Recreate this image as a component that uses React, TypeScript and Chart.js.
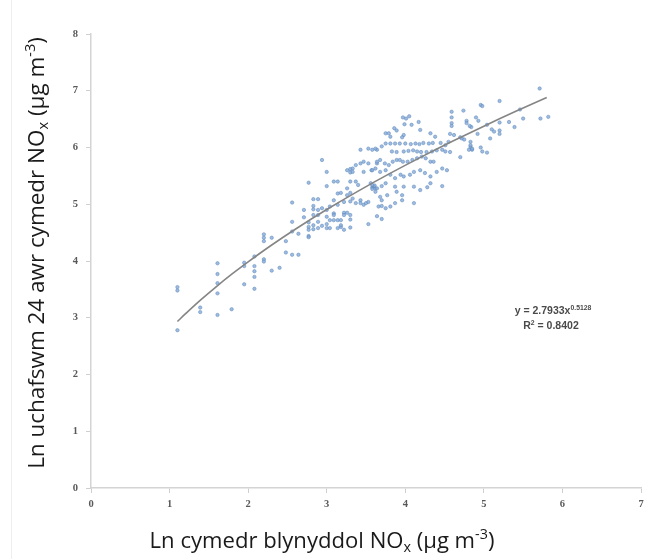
import React, { useEffect, useRef } from "react";
import { Chart, registerables } from "chart.js";

Chart.register(...registerables);

// ---- Data (ln of concentrations) ----
const lowRangePoints: [number, number][] = [
  [1.10, 3.54], [1.10, 3.48], [1.10, 2.78],
  [1.39, 3.18], [1.39, 3.10],
  [1.61, 3.96], [1.61, 3.77], [1.61, 3.61], [1.61, 3.43], [1.61, 3.05],
  [1.79, 3.15],
  [1.95, 3.97], [1.95, 3.91], [1.95, 3.59],
  [2.08, 4.08], [2.08, 3.91], [2.08, 3.82], [2.08, 3.72], [2.08, 3.51],
  [2.20, 4.47], [2.20, 4.41], [2.20, 4.35], [2.20, 4.03], [2.20, 3.99],
  [2.30, 4.41], [2.30, 3.83],
  [2.40, 3.88],
  [2.48, 4.35], [2.48, 4.15],
  [2.56, 5.03], [2.56, 4.69], [2.56, 4.52], [2.56, 4.11],
  [2.64, 4.48], [2.64, 4.11],
];

const midRangePoints: [number, number][] = [
  [2.71, 4.77], [2.71, 4.90],
  [2.77, 5.38], [2.77, 4.68], [2.77, 4.60], [2.77, 4.55], [2.77, 4.44], [2.77, 4.42],
  [2.83, 5.09], [2.83, 4.97], [2.83, 4.91], [2.83, 4.81], [2.83, 4.63], [2.83, 4.56],
  [2.89, 5.09], [2.89, 4.90], [2.89, 4.81], [2.89, 4.69], [2.89, 4.58],
  [2.94, 5.78], [2.94, 4.93], [2.94, 4.62],
  [3.00, 5.57], [3.00, 5.32], [3.00, 4.90], [3.00, 4.78], [3.00, 4.65], [3.00, 4.58],
  [3.04, 4.96], [3.04, 4.72], [3.04, 4.58],
  [3.09, 5.40], [3.09, 5.07], [3.09, 4.84], [3.09, 4.72], [3.09, 4.81],
  [3.14, 5.40], [3.14, 5.19], [3.14, 4.99], [3.14, 4.72], [3.14, 4.58],
  [3.18, 5.20], [3.18, 4.72], [3.18, 4.60], [3.18, 4.63],
  [3.22, 5.04], [3.22, 4.85], [3.22, 4.81], [3.22, 4.55],
  [3.26, 5.28], [3.26, 5.16], [3.26, 4.85], [3.26, 5.60],
  [3.30, 5.62], [3.30, 5.56], [3.30, 5.40], [3.30, 5.20], [3.30, 5.05], [3.30, 4.81], [3.30, 4.73], [3.30, 4.59],
  [3.33, 5.63], [3.33, 5.57], [3.33, 5.10],
  [3.37, 5.69], [3.37, 5.40], [3.37, 5.02],
  [3.40, 5.34],
  [3.43, 5.96], [3.43, 5.72], [3.43, 5.07], [3.43, 5.02],
  [3.47, 5.75], [3.47, 5.57], [3.47, 4.99],
];

const denseRangePoints: [number, number][] = [
  [3.50, 5.02], [3.53, 4.65], [3.53, 5.72], [3.53, 5.04], [3.53, 5.98],
  [3.56, 5.37], [3.58, 5.30], [3.60, 5.31], [3.62, 5.28], [3.58, 5.27], [3.61, 5.33], [3.57, 5.60],
  [3.64, 5.72], [3.64, 5.96], [3.66, 4.96], [3.62, 5.98],
  [3.97, 6.53], [3.99, 6.41], [4.08, 6.40], [4.17, 6.45], [4.01, 6.51], [4.05, 6.55],
  [3.75, 6.25], [3.79, 6.25], [3.86, 6.34], [3.98, 6.22], [3.96, 6.18], [4.19, 6.31],
  [4.32, 6.25], [4.38, 6.19], [4.57, 6.24], [4.62, 6.22], [3.89, 6.30], [3.81, 6.19],
  [4.59, 6.63], [4.59, 6.53], [4.59, 6.43], [4.59, 6.38],
  [4.55, 6.10], [4.51, 6.04], [4.45, 6.08], [4.35, 6.08], [4.30, 6.07], [4.23, 6.08],
  [4.18, 6.06], [4.13, 6.07], [4.07, 6.06],
  [4.00, 6.07], [3.93, 6.07], [3.87, 6.07], [3.81, 6.07], [3.75, 6.07], [3.70, 6.02], [3.58, 5.96],
  [3.83, 5.93], [3.89, 5.92], [3.98, 5.93], [4.04, 5.94], [4.10, 5.95], [4.15, 5.93], [4.20, 5.92],
  [4.27, 5.92], [4.34, 5.93], [4.40, 5.95], [4.47, 5.96], [4.51, 5.93], [4.57, 5.92],
  [3.64, 5.75], [3.68, 5.78], [3.74, 5.72], [3.79, 5.69], [3.84, 5.75], [3.89, 5.78], [3.93, 5.78],
  [3.97, 5.75], [4.03, 5.75], [4.09, 5.78], [4.15, 5.81], [4.21, 5.84], [4.26, 5.81], [4.32, 5.75], [4.36, 5.75],
  [3.58, 5.60], [3.62, 5.63], [3.68, 5.57], [3.75, 5.60], [3.81, 5.52], [3.87, 5.46], [3.94, 5.52],
  [3.98, 5.49], [4.06, 5.52], [4.11, 5.57], [4.19, 5.60], [4.25, 5.55], [4.32, 5.49], [4.40, 5.57],
  [4.47, 5.63], [4.53, 5.60],
  [3.58, 5.34], [3.64, 5.28], [3.70, 5.32], [3.75, 5.37], [3.62, 5.22], [3.68, 5.13], [3.77, 5.16],
  [3.87, 5.31], [3.89, 5.22], [3.98, 5.31], [3.96, 5.16], [4.11, 5.31], [4.19, 5.25], [4.28, 5.30],
  [4.32, 5.37], [4.47, 5.32],
  [3.70, 4.97], [3.75, 4.93], [3.81, 4.96], [3.87, 5.02], [3.96, 5.07], [4.11, 5.02], [3.70, 5.07],
  [3.64, 4.79], [3.70, 4.74],
];

const highRangePoints: [number, number][] = [
  [4.70, 6.18], [4.72, 6.16], [4.75, 6.14], [4.83, 6.10], [4.83, 6.01], [4.85, 5.96],
  [5.71, 7.04], [5.20, 6.82], [4.96, 6.75], [4.98, 6.73], [4.74, 6.65], [5.46, 6.67],
  [4.78, 6.47], [4.78, 6.43], [4.93, 6.47], [5.04, 6.40], [5.20, 6.44], [5.32, 6.45],
  [5.50, 6.51], [5.72, 6.51], [5.82, 6.54], [4.84, 6.36], [5.10, 6.32], [5.20, 6.30],
  [5.39, 6.36], [4.92, 6.24], [5.08, 6.16], [4.83, 6.04], [4.85, 5.98], [4.81, 5.96],
  [4.96, 6.00], [4.98, 5.93], [5.04, 5.91], [4.70, 5.83], [5.13, 6.28], [5.20, 6.24],
  [4.90, 6.53], [4.82, 6.38],
];

// Power trend line stated on the chart: y = 2.7933 x^0.5128
const TREND_COEF = 2.7933;
const TREND_EXP = 0.5128;
const trendX: number[] = [1.1, 1.2, 1.4, 1.6, 1.8, 2.0, 2.3, 2.6, 3.0, 3.4, 3.8, 4.2, 4.6, 5.0, 5.4, 5.8];

const xTickValues: number[] = [0, 1, 2, 3, 4, 5, 6, 7];
const yTickValues: number[] = [0, 1, 2, 3, 4, 5, 6, 7, 8];

const equationText = "y = 2.7933x";
const equationExpText = "0.5128";
const rSquaredText = " = 0.8402";

type Seg = { t: string; k?: "sub" | "sup" };

const yTitle: Seg[] = [
  { t: "Ln uchafswm 24 awr cymedr NO" },
  { t: "x", k: "sub" },
  { t: " (µg m" },
  { t: "-3", k: "sup" },
  { t: ")" },
];
const xTitle: Seg[] = [
  { t: "Ln cymedr blynyddol NO" },
  { t: "x", k: "sub" },
  { t: " (µg m" },
  { t: "-3", k: "sup" },
  { t: ")" },
];

function segFont(size: number, family: string, weight: string, k?: string) {
  const s = k ? size * 0.65 : size;
  return `${weight} ${s}px ${family}`;
}

function measureRich(ctx: CanvasRenderingContext2D, segs: Seg[], size: number, family: string, weight: string) {
  let w = 0;
  for (const s of segs) {
    ctx.font = segFont(size, family, weight, s.k);
    w += ctx.measureText(s.t).width;
  }
  return w;
}

function drawRich(
  ctx: CanvasRenderingContext2D,
  segs: Seg[],
  x: number,
  y: number,
  size: number,
  family: string,
  weight: string,
  color: string,
  align: "center" | "left"
) {
  const total = measureRich(ctx, segs, size, family, weight);
  let cx = align === "center" ? x - total / 2 : x;
  ctx.fillStyle = color;
  ctx.textBaseline = "alphabetic";
  ctx.textAlign = "left";
  for (const s of segs) {
    ctx.font = segFont(size, family, weight, s.k);
    let dy = 0;
    if (s.k === "sup") dy = -size * 0.4;
    if (s.k === "sub") dy = size * 0.2;
    ctx.fillText(s.t, cx, y + dy);
    cx += ctx.measureText(s.t).width;
  }
}

const TITLE_FAMILY = "'Open Sans', 'Noto Sans', sans-serif";

const annotationPlugin = {
  id: "richText",
  afterDraw(chart: any) {
    const ctx: CanvasRenderingContext2D = chart.ctx;
    ctx.save();
    const xTarget = 345;
    const xw = measureRich(ctx, xTitle, 20, TITLE_FAMILY, "normal");
    const xSize = (20 * xTarget) / xw;
    drawRich(ctx, xTitle, 322, 548, xSize, TITLE_FAMILY, "normal", "#1a1a1a", "center");

    const yTarget = 432;
    const yw = measureRich(ctx, yTitle, 20, TITLE_FAMILY, "normal");
    const ySize = (20 * yTarget) / yw;
    ctx.save();
    ctx.translate(44, 253);
    ctx.rotate(-Math.PI / 2);
    drawRich(ctx, yTitle, 0, 0, ySize, TITLE_FAMILY, "normal", "#1a1a1a", "center");
    ctx.restore();

    const eqFamily = "'Liberation Sans', Arial, sans-serif";
    drawRich(
      ctx,
      [{ t: equationText }, { t: equationExpText, k: "sup" }],
      553,
      314,
      10.5,
      eqFamily,
      "bold",
      "#4a4a4a",
      "center"
    );
    drawRich(
      ctx,
      [{ t: "R" }, { t: "2", k: "sup" }, { t: rSquaredText }],
      551,
      329,
      10.5,
      eqFamily,
      "bold",
      "#4a4a4a",
      "center"
    );
    ctx.restore();
  },
};

export default function App() {
  const canvasRef = useRef<HTMLCanvasElement | null>(null);

  useEffect(() => {
    if (!canvasRef.current) return;
    const points = [...lowRangePoints, ...midRangePoints, ...denseRangePoints, ...highRangePoints].map(
      ([x, y]) => ({ x, y })
    );
    const trend = trendX.map((x) => ({ x, y: TREND_COEF * Math.pow(x, TREND_EXP) }));
    const tickFont = { family: "'Liberation Serif', serif", size: 10.5, weight: "bold" as const };

    const chart = new Chart(canvasRef.current, {
      type: "scatter",
      data: {
        datasets: [
          {
            label: "Trend",
            data: trend,
            showLine: true,
            borderColor: "#858585",
            borderWidth: 1.6,
            pointRadius: 0,
            tension: 0.4,
            order: 0,
          } as any,
          {
            label: "Sites",
            data: points,
            pointRadius: 1.7,
            pointBorderWidth: 0.6,
            backgroundColor: "rgba(135,170,215,0.8)",
            borderColor: "rgba(85,130,185,0.8)",
            order: 1,
          } as any,
        ],
      },
      options: {
        animation: false,
        responsive: false,
        devicePixelRatio: 1,
        layout: { padding: { left: 0, right: 13, top: 34, bottom: 0 } },
        plugins: { legend: { display: false }, tooltip: { enabled: false } },
        scales: {
          x: {
            type: "linear",
            min: 0,
            max: 7,
            afterBuildTicks: (scale: any) => {
              scale.ticks = xTickValues.map((v) => ({ value: v }));
            },
            afterFit: (scale: any) => {
              scale.height = 71;
            },
            ticks: { color: "#595959", font: tickFont, padding: 5, maxRotation: 0 },
            grid: { drawOnChartArea: false, drawTicks: true, tickLength: 5, color: "#cfcfcf", lineWidth: 1 },
            border: { color: "#d4d4d4", width: 1.5 },
          },
          y: {
            type: "linear",
            min: 0,
            max: 8,
            afterBuildTicks: (scale: any) => {
              scale.ticks = yTickValues.map((v) => ({ value: v }));
            },
            afterFit: (scale: any) => {
              scale.width = 91;
            },
            ticks: { color: "#595959", font: tickFont, padding: 8 },
            grid: { drawOnChartArea: false, drawTicks: true, tickLength: 5, color: "#cfcfcf", lineWidth: 1 },
            border: { color: "#d4d4d4", width: 1.5 },
          },
        },
      } as any,
      plugins: [annotationPlugin],
    });
    return () => chart.destroy();
  }, []);

  return (
    <div style={{ position: "fixed", left: 0, top: 0, width: 654, height: 559, background: "#ffffff" }}>
      <div style={{ position: "absolute", left: 11, top: 0, width: 1, height: 559, background: "#eeeeee" }} />
      <canvas ref={canvasRef} width={654} height={559} style={{ position: "absolute", left: 0, top: 0, width: 654, height: 559 }} />
    </div>
  );
}
